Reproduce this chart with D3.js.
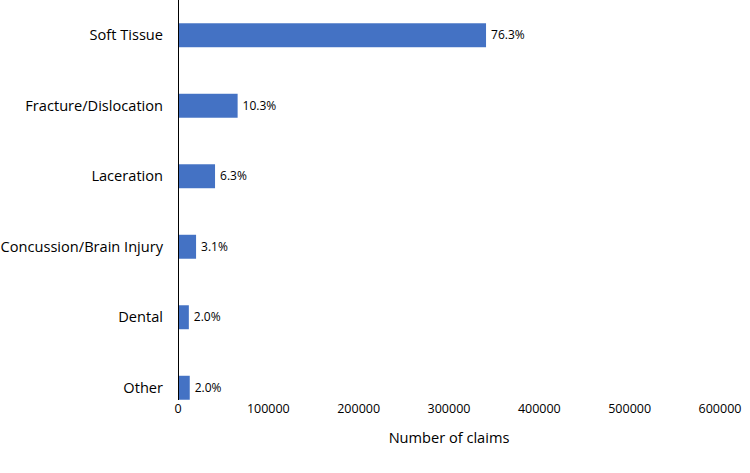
<!DOCTYPE html>
<html><head><meta charset="utf-8">
<script src="https://cdn.jsdelivr.net/npm/d3@7"></script>
<style>body{margin:0;background:#fff}text{font-family:"Open Sans",sans-serif;fill:#000}</style>
</head><body><svg width="750" height="473"></svg>
<script>
const categories=["Soft Tissue","Fracture/Dislocation","Laceration","Concussion/Brain Injury","Dental","Other"];
const values=[341000,66000,41000,20000,12000,13000];
const labels=["76.3%","10.3%","6.3%","3.1%","2.0%","2.0%"];
const ticks=[0,100000,200000,300000,400000,500000,600000];
const svg=d3.select("svg");
const x=d3.scaleLinear().domain([0,600000]).range([178,720]);
const y=d3.scaleBand().domain(categories).range([0,423]).paddingInner(0.66).paddingOuter(0.33);
svg.selectAll("rect").data(values).join("rect")
 .attr("x",x(0)).attr("y",(d,i)=>y(categories[i])).attr("width",d=>x(d)-x(0)).attr("height",y.bandwidth()).attr("fill","#4472C4");
svg.append("line").attr("x1",178.5).attr("x2",178.5).attr("y1",0).attr("y2",400).attr("stroke","#000");
svg.selectAll(".cat").data(categories).join("text").attr("x",163).attr("y",d=>y(d)+y.bandwidth()/2).attr("dy","0.35em").attr("text-anchor","end").attr("font-size",14.6).text(d=>d);
svg.selectAll(".val").data(values).join("text").attr("x",d=>x(d)+5).attr("y",(d,i)=>y(categories[i])+y.bandwidth()/2).attr("dy","0.35em").attr("font-size",12).text((d,i)=>labels[i]);
svg.selectAll(".tick").data(ticks).join("text").attr("x",d=>x(d)).attr("y",413).attr("text-anchor","middle").attr("font-size",12.5).text(d=>d);
svg.append("text").attr("x",449).attr("y",443).attr("text-anchor","middle").attr("font-size",14.6).text("Number of claims");
</script></body></html>
